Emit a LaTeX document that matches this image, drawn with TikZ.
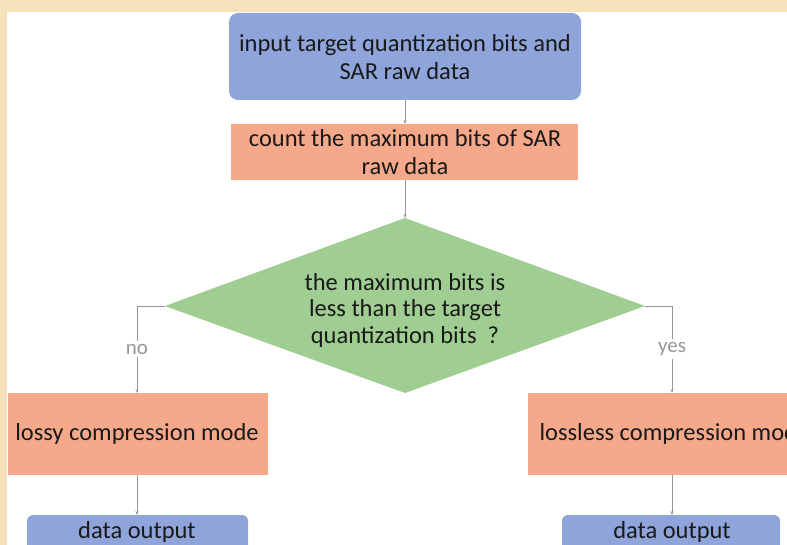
\documentclass[tikz,border=0pt]{standalone}
\usepackage{fontspec}
\setmainfont{Carlito}
\usetikzlibrary{shapes.geometric,arrows.meta}
\definecolor{bgbeige}{RGB}{245,226,186}
\definecolor{boxblue}{RGB}{143,164,219}
\definecolor{boxsalmon}{RGB}{245,169,138}
\definecolor{boxgreen}{RGB}{160,206,146}
\definecolor{linegray}{RGB}{150,150,150}
\definecolor{txt}{RGB}{25,25,25}
\tikzset{
  boxtext/.style={text=txt, align=center, font=\fontsize{24.5}{28}\selectfont},
  conn/.style={draw=linegray, line width=0.8pt, -{Stealth[length=4pt,width=3pt]}},
  plainconn/.style={draw=linegray, line width=0.8pt},
  lbl/.style={fill=white, text=linegray, font=\fontsize{21}{24}\selectfont, inner sep=3pt}
}
\begin{document}
\begin{tikzpicture}[x=1pt,y=-1pt]
\useasboundingbox (0,0) rectangle (787,545);
\fill[bgbeige] (0,0) rectangle (787,545);
\fill[white] (7,12) rectangle (787,545);
\begin{scope}
\clip (0,0) rectangle (787,545);
\fill[boxblue, rounded corners=9pt] (229,13) rectangle (581,100);
\node[boxtext] (inp) at (405,57) {input target quantization bits and\\SAR raw data};
\coordinate (inpB) at (405,100);
\fill[boxsalmon] (231,124) rectangle (578,180);
\node[boxtext] (cnt) at (405,152) {count the maximum bits of SAR\\raw data};
\coordinate (cntT) at (405,124);
\coordinate (cntB) at (405,180);
\fill[boxgreen] (405,218) -- (645,306) -- (405,393) -- (165,306) -- cycle;
\node[boxtext, font=\fontsize{24.5}{26.5}\selectfont] (dec) at (405,310) {the maximum bits is\\less than the target\\quantization bits\ \ ?};
\coordinate (decT) at (405,218);
\coordinate (decL) at (165,306);
\coordinate (decR) at (645,306);
\fill[boxsalmon] (8,393) rectangle (268,475);
\node[boxtext] (lossy) at (137,434) {lossy compression mode};
\coordinate (lossyT) at (137,393);
\coordinate (lossyB) at (137,475);
\fill[boxsalmon] (528,393) rectangle (800,475);
\node[boxtext, anchor=west] (lossless) at (536,434) {lossless compression mode};
\coordinate (losslessT) at (672,393);
\coordinate (losslessB) at (672,475);
\fill[boxblue, rounded corners=6pt] (27,515) rectangle (248,570);
\node[boxtext] (outL) at (137,532) {data output};
\coordinate (outLT) at (137,515);
\fill[boxblue, rounded corners=6pt] (562,515) rectangle (780,570);
\node[boxtext] (outR) at (672,532) {data output};
\coordinate (outRT) at (672,515);
% connectors
\draw[conn] (inpB) -- (cntT);
\draw[conn] (cntB) -- (decT);
\node[lbl] (no) at (137,349) {no};
\node[lbl] (yes) at (672,349) {yes};
\draw[plainconn] (decL) -| (no.north);
\draw[conn] (no.south) -- (lossyT);
\draw[plainconn] (decR) -| (yes.north);
\draw[conn] (yes.south) -- (losslessT);
\draw[conn] (lossyB) -- (outLT);
\draw[conn] (losslessB) -- (outRT);
\end{scope}
\end{tikzpicture}
\end{document}
